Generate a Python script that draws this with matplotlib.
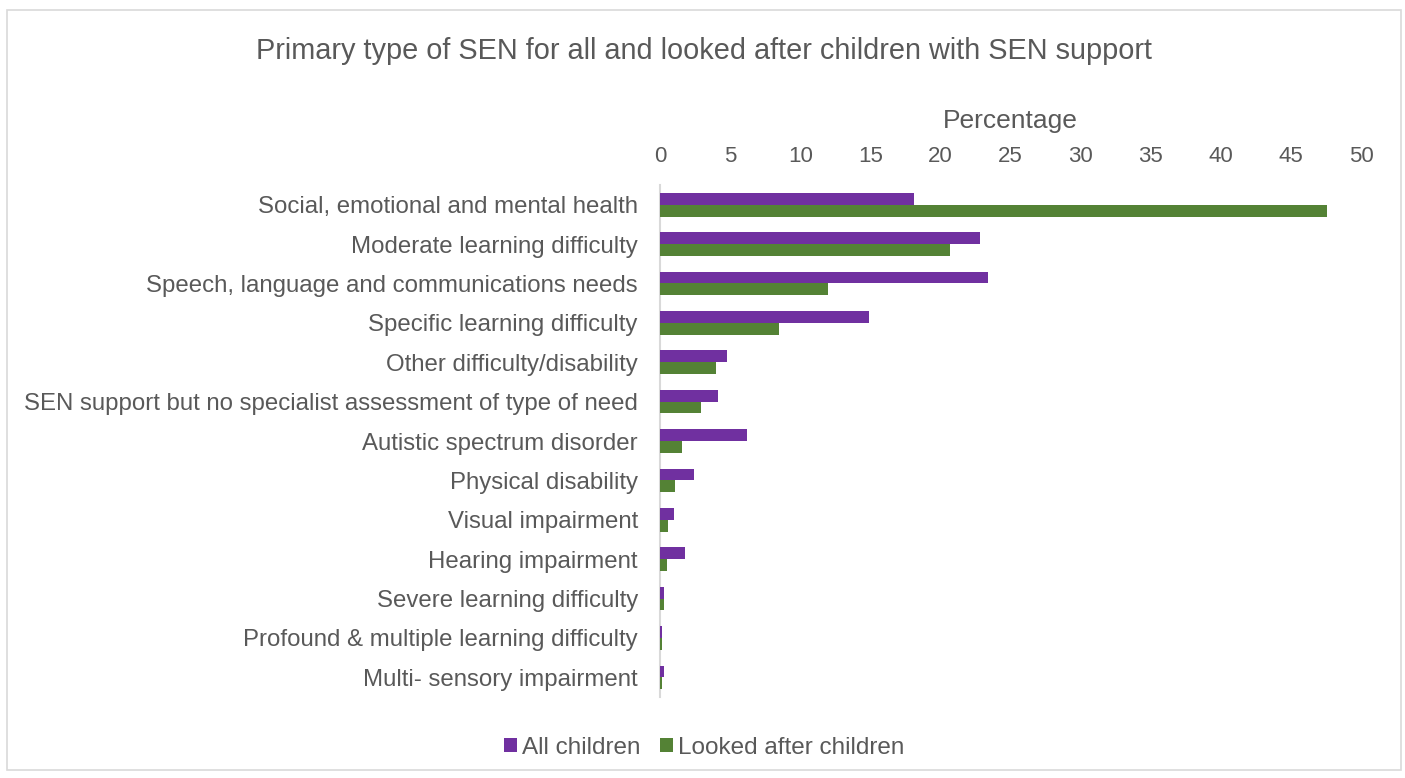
import matplotlib
matplotlib.use("Agg")
import matplotlib.pyplot as plt
from matplotlib.patches import Rectangle

categories = [
    "Social, emotional and mental health",
    "Moderate learning difficulty",
    "Speech, language and communications needs",
    "Specific learning difficulty",
    "Other difficulty/disability",
    "SEN support but no specialist assessment of type of need",
    "Autistic spectrum disorder",
    "Physical disability",
    "Visual impairment",
    "Hearing impairment",
    "Severe learning difficulty",
    "Profound & multiple learning difficulty",
    "Multi- sensory impairment",
]
all_children = [18.1, 22.8, 23.4, 14.9, 4.8, 4.1, 6.2, 2.4, 1.0, 1.75, 0.27, 0.15, 0.27]
looked_after = [47.6, 20.7, 12.0, 8.5, 4.0, 2.9, 1.6, 1.1, 0.56, 0.46, 0.27, 0.12, 0.12]
x_ticks = [0, 5, 10, 15, 20, 25, 30, 35, 40, 45, 50]

purple = "#7030A0"
green = "#548235"
text_col = "#595959"

plt.rcParams['font.family'] = ['Liberation Sans', 'DejaVu Sans']


def main():
    fig = plt.figure(figsize=(14.05, 7.78), dpi=100)
    ax = fig.add_axes([0.4698, 0.1041, 0.4989, 0.6581])

    h = 0.3
    pos = list(range(len(categories)))
    ax.barh([p - h / 2 for p in pos], all_children, height=h, color=purple,
            label="All children", zorder=3)
    ax.barh([p + h / 2 for p in pos], looked_after, height=h, color=green,
            label="Looked after children", zorder=3)

    ax.set_ylim(12.5, -0.5)
    ax.set_xlim(0, 50)
    ax.set_yticks(pos)
    ax.set_yticklabels(categories, fontsize=17.3, color=text_col)
    ax.xaxis.tick_top()
    ax.xaxis.set_label_position("top")
    ax.set_xticks(x_ticks)
    ax.set_xticklabels([str(t) for t in x_ticks], fontsize=16, color=text_col,
                       family=['Liberation Sans Narrow', 'Liberation Sans'])
    ax.set_xlabel("Percentage", fontsize=19, color=text_col, labelpad=13)
    ax.tick_params(axis="both", length=0)
    ax.tick_params(axis="x", pad=13)
    ax.tick_params(axis="y", pad=16)
    for side in ["top", "right", "bottom"]:
        ax.spines[side].set_visible(False)
    ax.spines["left"].set_color("#d9d9d9")
    ax.spines["left"].set_linewidth(1.5)
    ax.spines["left"].set_zorder(1)

    fig.text(0.501, 0.935, "Primary type of SEN for all and looked after children with SEN support",
             ha="center", va="center", fontsize=20.8, color=text_col)

    leg = fig.legend(loc="center", bbox_to_anchor=(0.501, 0.039), ncol=2, frameon=False,
                     fontsize=17.5, handlelength=0.55, handleheight=0.55,
                     handletextpad=0.2, columnspacing=0.8)
    for t in leg.get_texts():
        t.set_color(text_col)

    fig.patches.append(Rectangle((0.005, 0.01), 0.992, 0.977, transform=fig.transFigure,
                                 fill=False, edgecolor="#d9d9d9", linewidth=1.2))

    fig.savefig("out.png", dpi=100)
    plt.close(fig)


if __name__ == "__main__":
    main()
